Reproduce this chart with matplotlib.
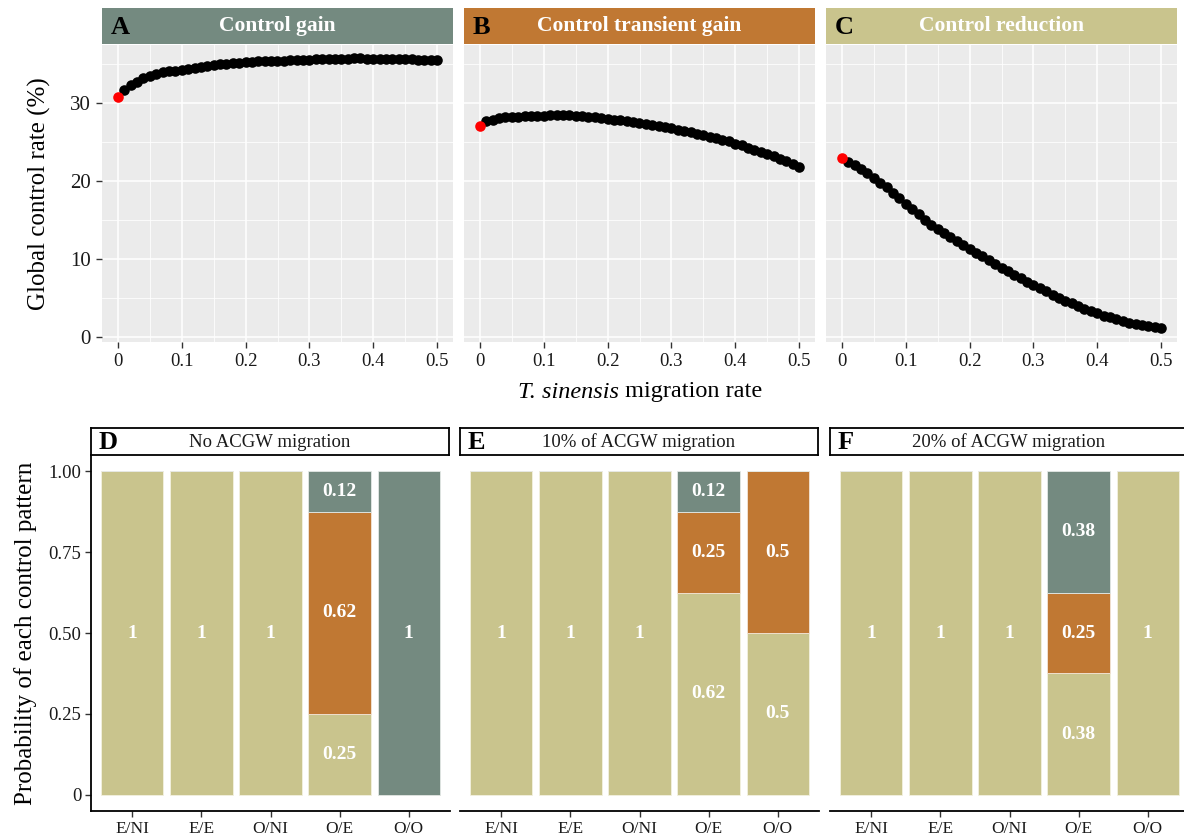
import numpy as np
import matplotlib
matplotlib.use('Agg')
import matplotlib.pyplot as plt
from matplotlib.ticker import MultipleLocator

plt.rcParams['font.family'] = ['Liberation Serif', 'DejaVu Serif']

# migration rate of T. sinensis, 0 to 0.5 by 0.01
rate = [i / 100 for i in range(51)]

gain = [30.8, 31.7, 32.3, 32.8, 33.2, 33.5, 33.8, 34.0, 34.1, 34.2,
        34.3, 34.4, 34.6, 34.7, 34.8, 34.9, 35.0, 35.1, 35.2, 35.2,
        35.3, 35.3, 35.4, 35.4, 35.5, 35.5, 35.5, 35.6, 35.6, 35.6,
        35.6, 35.7, 35.7, 35.7, 35.7, 35.7, 35.7, 35.8, 35.8, 35.7,
        35.7, 35.7, 35.7, 35.7, 35.7, 35.7, 35.7, 35.6, 35.6, 35.6,
        35.6]
transient = [27.1, 27.7, 27.9, 28.1, 28.2, 28.3, 28.3, 28.4, 28.4, 28.4,
             28.4, 28.5, 28.5, 28.5, 28.5, 28.4, 28.4, 28.3, 28.2, 28.1,
             28.0, 27.9, 27.8, 27.7, 27.6, 27.5, 27.4, 27.2, 27.1, 27.0,
             26.8, 26.6, 26.5, 26.3, 26.1, 25.9, 25.7, 25.5, 25.3, 25.1,
             24.8, 24.6, 24.3, 24.0, 23.8, 23.5, 23.2, 22.9, 22.6, 22.2,
             21.8]
reduction = [23.0, 22.5, 22.1, 21.6, 21.0, 20.4, 19.8, 19.2, 18.5, 17.8,
             17.1, 16.4, 15.7, 15.0, 14.4, 13.8, 13.3, 12.8, 12.3, 11.8,
             11.3, 10.8, 10.3, 9.8, 9.3, 8.8, 8.4, 7.9, 7.5, 7.0,
             6.6, 6.2, 5.8, 5.4, 5.0, 4.6, 4.3, 3.9, 3.6, 3.3,
             3.0, 2.7, 2.5, 2.2, 2.0, 1.8, 1.6, 1.5, 1.3, 1.2,
             1.1]

top_letters = ['A', 'B', 'C']
top_titles = ['Control gain', 'Control transient gain', 'Control reduction']

patterns = ['E/NI', 'E/E', 'O/NI', 'O/E', 'O/O']
bot_letters = ['D', 'E', 'F']
bot_titles = ['No ACGW migration', '10% of ACGW migration', '20% of ACGW migration']
# probability of each outcome, stacked reduction / transient gain / gain
p_reduction = [[1, 1, 1, 0.25, 0], [1, 1, 1, 0.625, 0.5], [1, 1, 1, 0.375, 1]]
p_transient = [[0, 0, 0, 0.625, 0], [0, 0, 0, 0.25, 0.5], [0, 0, 0, 0.25, 0]]
p_gain = [[0, 0, 0, 0.125, 1], [0, 0, 0, 0.125, 0], [0, 0, 0, 0.375, 0]]

c_gain = '#748A80'
c_trans = '#C07833'
c_red = '#C9C48D'

W, H = 1184, 836
fig = plt.figure(figsize=(W / 100, H / 100), dpi=100)


def px_axes(x0, y0, x1, y1):
    return fig.add_axes([x0 / W, 1 - y1 / H, (x1 - x0) / W, (y1 - y0) / H])


# ---- top row ----
top_x = [(102, 453), (464, 815), (826, 1177)]
strip_cols = [c_gain, c_trans, c_red]
series = [gain, transient, reduction]
for i in range(3):
    x0, x1 = top_x[i]
    ax = px_axes(x0, 45, x1, 342)
    ax.set_facecolor('#EBEBEB')
    ax.scatter(rate[1:], series[i][1:], s=58, color='black', zorder=3, linewidths=0)
    ax.scatter(rate[:1], series[i][:1], s=58, color='red', zorder=4, linewidths=0)
    ax.set_xlim(-0.025, 0.525)
    ax.set_ylim(-0.7, 37.5)
    ax.xaxis.set_major_locator(MultipleLocator(0.1))
    ax.xaxis.set_minor_locator(MultipleLocator(0.05))
    ax.yaxis.set_major_locator(MultipleLocator(10))
    ax.yaxis.set_minor_locator(MultipleLocator(5))
    ax.set_xticks([0, 0.1, 0.2, 0.3, 0.4, 0.5])
    ax.set_xticklabels(['0', '0.1', '0.2', '0.3', '0.4', '0.5'])
    ax.grid(which='major', color='white', lw=1.1)
    ax.grid(which='minor', color='white', lw=0.55)
    ax.set_axisbelow(True)
    for s in ax.spines.values():
        s.set_visible(False)
    ax.tick_params(which='major', length=4, width=1, color='#333333',
                   labelsize=13.5, labelcolor='#1a1a1a', pad=4)
    ax.tick_params(axis='y', labelsize=15)
    ax.tick_params(which='minor', length=0)
    if i == 0:
        ax.set_ylabel('Global control rate (%)', fontsize=18, labelpad=14)
    else:
        ax.tick_params(axis='y', which='both', left=False, labelleft=False)

    st = px_axes(x0, 8, x1, 44)
    st.set_facecolor(strip_cols[i])
    st.set_xticks([])
    st.set_yticks([])
    for s in st.spines.values():
        s.set_visible(False)
    st.text(0.5, 0.5, top_titles[i], color='white', fontsize=15.5, fontweight='bold',
            ha='center', va='center', transform=st.transAxes)
    st.text(0.025, 0.45, top_letters[i], color='black', fontsize=19, fontweight='bold',
            ha='left', va='center', transform=st.transAxes)

# x axis title: italic species name followed by plain text
renderer = fig.canvas.get_renderer()
t1 = fig.text(0, 1 - 392 / H, 'T. sinensis', fontsize=17.5, style='italic',
              ha='left', va='center')
t2 = fig.text(0, 1 - 392 / H, ' migration rate', fontsize=17.5,
              ha='left', va='center')
w1 = t1.get_window_extent(renderer).width
w2 = t2.get_window_extent(renderer).width
left = 640 - (w1 + w2) / 2
t1.set_x(left / W)
t2.set_x((left + w1) / W)

# ---- bottom row ----
bot_x = [(91, 450), (460, 819), (830, 1189)]
xpos = np.arange(1, len(patterns) + 1)
for i in range(3):
    x0, x1 = bot_x[i]
    ax = px_axes(x0, 455, x1, 811)
    r = np.array(p_reduction[i], dtype=float)
    t = np.array(p_transient[i], dtype=float)
    g = np.array(p_gain[i], dtype=float)
    ax.bar(xpos, r, width=0.9, color=c_red, edgecolor='#f3f1e0', linewidth=0.6)
    ax.bar(xpos, t, width=0.9, bottom=r, color=c_trans, edgecolor='#f3e6d8', linewidth=0.6)
    ax.bar(xpos, g, width=0.9, bottom=r + t, color=c_gain, edgecolor='#e4e9e6', linewidth=0.6)
    for k in range(len(patterns)):
        base = 0
        for v in (r[k], t[k], g[k]):
            if v > 0:
                ax.text(xpos[k], base + v / 2, f'{round(v, 2):g}', color='white',
                        fontsize=14, fontweight='bold', ha='center', va='center')
            base += v
    ax.set_xlim(0.4, 5.6)
    ax.set_ylim(-0.05, 1.05)
    ax.set_xticks(xpos)
    ax.set_xticklabels(patterns)
    ax.set_facecolor('white')
    ax.spines['top'].set_visible(False)
    ax.spines['right'].set_visible(False)
    ax.spines['bottom'].set_linewidth(1.3)
    ax.tick_params(length=4, width=1, color='#333333', labelsize=12.5,
                   labelcolor='#1a1a1a', pad=3)
    if i == 0:
        ax.spines['left'].set_linewidth(1.3)
        ax.set_yticks([0, 0.25, 0.5, 0.75, 1.0])
        ax.set_yticklabels(['0', '0.25', '0.50', '0.75', '1.00'])
        ax.tick_params(axis='y', labelsize=13.5)
        ax.set_ylabel('Probability of each control pattern', fontsize=18, labelpad=8)
    else:
        ax.spines['left'].set_visible(False)
        ax.set_yticks([])

    st = px_axes(x0, 428, x1 - 1, 455)
    st.set_facecolor('white')
    st.set_xticks([])
    st.set_yticks([])
    for s in st.spines.values():
        s.set_linewidth(1.3)
        s.set_color('black')
    st.text(0.5, 0.48, bot_titles[i], color='#1a1a1a', fontsize=13.5,
            ha='center', va='center', transform=st.transAxes)
    st.text(0.02, 0.45, bot_letters[i], color='black', fontsize=19, fontweight='bold',
            ha='left', va='center', transform=st.transAxes)

fig.savefig('out.png', dpi=100)
